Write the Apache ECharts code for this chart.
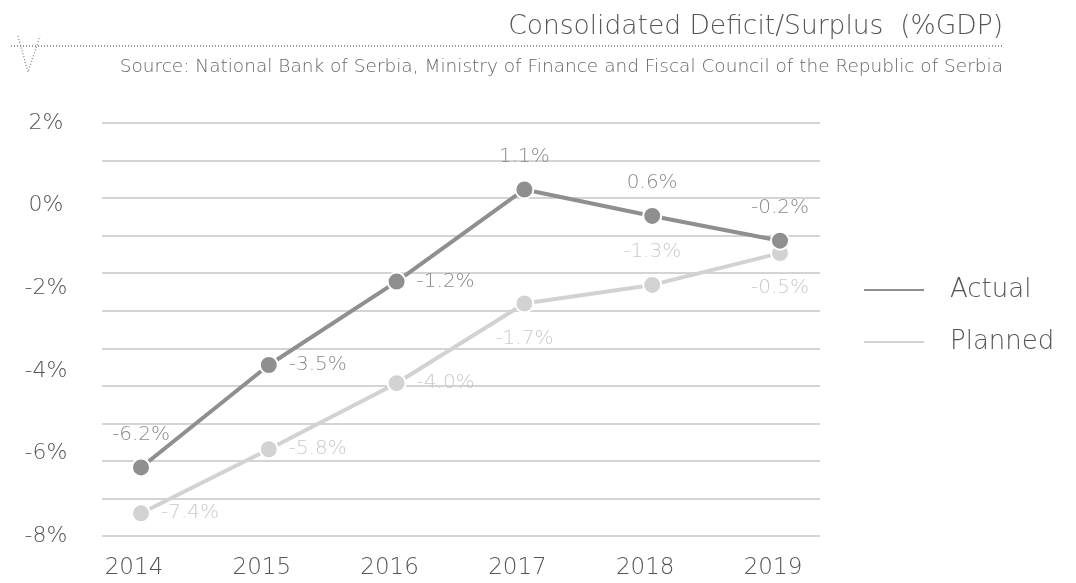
<!DOCTYPE html>
<html><head><meta charset="utf-8">
<script src="https://cdn.jsdelivr.net/npm/echarts@6/dist/echarts.min.js"></script>
<style>html,body{margin:0;padding:0;background:#fff}#c{width:1076px;height:583px}</style>
</head><body><div id="c"></div>
<script>
const years = ['2014','2015','2016','2017','2018','2019'];
const actualValues  = [-6.34, -3.86, -1.84, 0.39, -0.25, -0.85];
const plannedValues = [-7.45, -5.90, -4.30, -2.37, -1.92, -1.15];
// printed data labels
const actualLabels  = ['-6.2%', '-3.5%', '-1.2%', '1.1%', '0.6%', '-0.2%'];
const plannedLabels = ['-7.4%', '-5.8%', '-4.0%', '-1.7%', '-1.3%', '-0.5%'];
const yTicks = [-8, -6, -4, -2, 0, 2];
const title = 'Consolidated Deficit/Surplus  (%GDP)';
const source = 'Source: National Bank of Serbia, Ministry of Finance and Fiscal Council of the Republic of Serbia';

const FONT = '"DejaVu Sans"';
const FW = 200;
const actualPos  = ['top', 'right', 'right', 'top', 'top', 'top'];
const plannedPos = ['right', 'right', 'right', 'bottom', 'top', 'bottom'];

function build(vals, labels, pos, color) {
  return vals.map((v, i) => ({
    value: v,
    label: { show: true, position: pos[i], formatter: labels[i], color: color,
      fontFamily: FONT, fontWeight: FW, fontSize: 20, distance: pos[i] === 'right' ? 10 : (pos[i] === 'bottom' ? 15 : 13) }
  }));
}

const chart = echarts.init(document.getElementById('c'));
chart.setOption({
  backgroundColor: '#fff',
  animation: false,
  textStyle: { fontFamily: FONT, fontWeight: FW },
  graphic: [
    { type: 'text', right: 73, top: 14, style: { text: title, fill: '#555', font: FW + ' 26.5px ' + FONT } },
    { type: 'line', shape: { x1: 11, y1: 46, x2: 1003, y2: 46 }, style: { stroke: '#777', lineWidth: 1.3, lineDash: [1, 2] } },
    { type: 'polyline', shape: { points: [[18, 36], [28, 72], [40, 36]] }, style: { stroke: '#888', lineWidth: 1.3, lineDash: [1, 2], fill: null } },
    { type: 'text', right: 73, top: 58, style: { text: source, fill: '#666', font: FW + ' 18.5px ' + FONT } }
  ],
  legend: {
    orient: 'vertical', left: 857, top: 272, itemGap: 26,
    icon: 'rect', itemWidth: 62, itemHeight: 4,
    textStyle: { fontSize: 26, color: '#555', fontFamily: FONT, fontWeight: FW, padding: [0, 0, 0, 20] },
    data: ['Actual', 'Planned']
  },
  grid: [
    { left: 102, right: 256, top: 123, bottom: 47 },
    { left: 141, right: 296, top: 123, bottom: 47 }
  ],
  xAxis: [
    { type: 'value', gridIndex: 0, min: 0, max: 1, show: false },
    { type: 'category', gridIndex: 1, data: years, boundaryGap: false,
      axisLine: { show: false }, axisTick: { show: false }, splitLine: { show: false },
      axisLabel: { color: '#555', fontSize: 23, fontFamily: FONT, fontWeight: FW, margin: 21, padding: [0, 14, 0, 0] } }
  ],
  yAxis: [
    { type: 'value', gridIndex: 0, min: 0, max: 11, interval: 1,
      axisLabel: { show: false }, axisLine: { show: false }, axisTick: { show: false },
      splitLine: { show: true, lineStyle: { color: '#c6c6c6', width: 1.5 } } },
    { type: 'value', gridIndex: 1, min: -8, max: 2, interval: 2,
      axisLine: { show: false }, axisTick: { show: false }, splitLine: { show: false },
      axisLabel: { color: '#555', fontSize: 22, fontFamily: FONT, fontWeight: FW, align: 'center', margin: 95,
        formatter: v => yTicks.includes(v) ? v + '%' : '' } }
  ],
  series: [
    { name: 'Actual', type: 'line', xAxisIndex: 1, yAxisIndex: 1,
      data: build(actualValues, actualLabels, actualPos, '#8a8a8a'),
      color: '#8c8c8c', lineStyle: { width: 4, color: '#8f8f8f' },
      symbol: 'circle', symbolSize: 18, itemStyle: { color: '#8f8f8f', borderColor: '#fff', borderWidth: 2 }, z: 3 },
    { name: 'Planned', type: 'line', xAxisIndex: 1, yAxisIndex: 1,
      data: build(plannedValues, plannedLabels, plannedPos, '#c9c9c9'),
      color: '#d0d0d0', lineStyle: { width: 4, color: '#d2d2d2' },
      symbol: 'circle', symbolSize: 18, itemStyle: { color: '#d2d2d2', borderColor: '#fff', borderWidth: 2 }, z: 2 }
  ]
});
</script></body></html>
